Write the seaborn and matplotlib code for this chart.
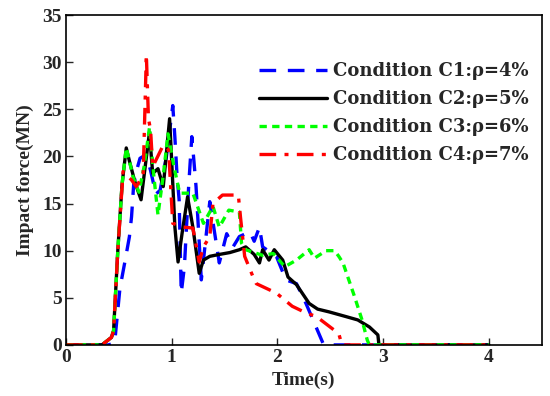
import matplotlib
matplotlib.use("Agg")
import matplotlib.pyplot as plt
import seaborn as sns
import pandas as pd

# ---- data ----
t_c1 = [0, 0.40, 0.46, 0.51, 0.56, 0.60, 0.62, 0.64, 0.67, 0.70, 0.73, 0.76, 0.80, 0.85, 0.89, 0.95,
        1.01, 1.03, 1.05, 1.07, 1.09, 1.12, 1.16, 1.19, 1.21, 1.23, 1.28, 1.36, 1.45, 1.52, 1.58, 1.64,
        1.70, 1.74, 1.78, 1.83, 1.86, 1.99, 2.08, 2.18, 2.27, 2.43, 2.45, 4.0]
f_c1 = [0, 0, 0.2, 6.0, 9.0, 11.5, 13.6, 17.0, 18.6, 19.8, 20.0, 20.1, 18.5, 16.0, 16.4, 20.0,
        25.4, 22.0, 18.0, 15.4, 5.5, 8.3, 16.8, 22.1, 19.5, 16.8, 6.9, 15.2, 8.7, 11.8, 10.4, 11.5,
        11.8, 12.0, 11.0, 12.5, 10.4, 9.4, 6.9, 6.5, 4.4, 0.2, 0, 0]

t_c2 = [0, 0.34, 0.43, 0.45, 0.49, 0.53, 0.57, 0.60, 0.64, 0.66, 0.71, 0.75, 0.79, 0.80, 0.82, 0.87,
        0.92, 0.98, 1.03, 1.06, 1.10, 1.15, 1.20, 1.26, 1.30, 1.36, 1.45, 1.55, 1.64, 1.70, 1.78, 1.83,
        1.86, 1.92, 1.97, 2.05, 2.10, 2.18, 2.30, 2.38, 2.49, 2.65, 2.76, 2.87, 2.95, 2.96, 4.0]
f_c2 = [0, 0, 0.8, 1.5, 10.0, 17.0, 20.9, 19.5, 17.8, 17.0, 15.4, 19.0, 22.6, 21.0, 18.2, 18.7,
        16.8, 24.0, 12.5, 8.8, 12.0, 15.7, 12.5, 7.6, 9.0, 9.4, 9.6, 9.8, 10.1, 10.4, 9.6, 8.7,
        10.1, 9.0, 10.1, 9.0, 7.2, 6.4, 4.4, 3.8, 3.5, 3.0, 2.65, 1.9, 1.06, 0, 0]

t_c3 = [0, 0.34, 0.43, 0.45, 0.49, 0.53, 0.57, 0.60, 0.635, 0.69, 0.74, 0.79, 0.83, 0.87, 0.92, 0.965,
        1.02, 1.075, 1.15, 1.20, 1.30, 1.39, 1.45, 1.54, 1.64, 1.66, 1.70, 1.86, 1.96, 2.07, 2.18,
        2.30, 2.35, 2.46, 2.54, 2.58, 2.62, 2.73, 2.80, 2.85, 2.87, 4.0]
f_c3 = [0, 0, 0.8, 1.5, 10.0, 17.0, 20.9, 19.5, 17.8, 16.2, 19.0, 23.1, 18.0, 13.8, 18.0, 22.4,
        19.0, 16.1, 16.1, 16.1, 12.9, 14.7, 12.5, 14.3, 14.1, 10.8, 10.1, 9.5, 9.7, 8.3, 9.0,
        10.1, 9.2, 10.0, 10.0, 9.4, 8.7, 5.1, 2.65, 0.5, 0, 0]

t_c4 = [0, 0.34, 0.43, 0.45, 0.49, 0.54, 0.62, 0.665, 0.73, 0.76, 0.78, 0.80, 0.82, 0.92, 0.97,
        1.01, 1.11, 1.20, 1.26, 1.30, 1.36, 1.39, 1.48, 1.63, 1.65, 1.69, 1.77, 1.80, 1.99, 2.14,
        2.27, 2.37, 2.58, 2.61, 4.0]
f_c4 = [0, 0, 0.8, 1.5, 10.0, 18.4, 17.5, 16.8, 18.0, 30.8, 24.0, 22.8, 18.9, 21.2, 20.7,
        12.9, 12.5, 12.4, 8.8, 10.4, 11.5, 15.0, 15.9, 15.9, 13.6, 9.4, 7.2, 6.5, 5.5, 4.1,
        3.4, 3.0, 1.2, 0, 0]

labels = ["Condition C1:\u03c1=4%", "Condition C2:\u03c1=5%",
          "Condition C3:\u03c1=6%", "Condition C4:\u03c1=7%"]
colors = ["#0000ff", "#000000", "#00ff00", "#ff0000"]
styles = [(0, (5, 3.5)), "-", (0, (2.2, 1.6)), (0, (5, 2.5, 1.2, 2.5))]

x_ticks = [0, 1, 2, 3, 4]
y_ticks = [0, 5, 10, 15, 20, 25, 30, 35]

# ---- plot ----
sns.set_style("ticks")
plt.rcParams["font.family"] = ["Liberation Serif", "DejaVu Serif"]

fig = plt.figure(figsize=(5.5, 3.96), dpi=100)
ax = fig.add_axes([0.12, 0.129, 0.865, 0.833])

series = [(t_c1, f_c1), (t_c2, f_c2), (t_c3, f_c3), (t_c4, f_c4)]
for (tt, ff), lab, col, ls in zip(series, labels, colors, styles):
    df = pd.DataFrame({"t": tt, "f": ff})
    sns.lineplot(data=df, x="t", y="f", ax=ax, color=col, linestyle=ls,
                 linewidth=2.4, label=lab, estimator=None, sort=False)

ax.set_xlim(0, 4.5)
ax.set_ylim(0, 35)
ax.set_xticks(x_ticks)
ax.set_yticks(y_ticks)
ax.tick_params(direction="in", length=5, width=1, labelsize=14, pad=3)
for lbl in ax.get_xticklabels() + ax.get_yticklabels():
    lbl.set_fontweight("bold")
for sp in ax.spines.values():
    sp.set_visible(True)
    sp.set_linewidth(1.2)
    sp.set_color("black")

ax.set_xlabel("Time(s)", fontsize=14, fontweight="bold", labelpad=4)
ax.set_ylabel("Impact force(MN)", fontsize=14, fontweight="bold", labelpad=6)

leg = ax.legend(loc="upper right", bbox_to_anchor=(0.995, 0.89), frameon=False,
                prop={"family": "DejaVu Serif", "weight": "bold", "size": 13},
                handlelength=3.8, handletextpad=0.3, labelspacing=0.55,
                borderaxespad=0.2)

fig.savefig("out.png", dpi=100)
